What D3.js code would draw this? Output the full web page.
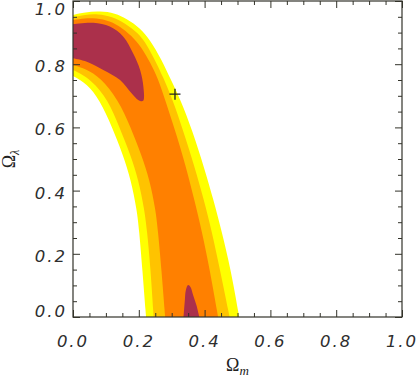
<!DOCTYPE html>
<html>
<head>
<meta charset="utf-8">
<script src="https://d3js.org/d3.v7.min.js"></script>
<style>
  html, body { margin: 0; padding: 0; background: #fff; }
  svg { display: block; }
  .tick-label { font-family: "DejaVu Sans", sans-serif; font-style: oblique; font-size: 16.5px; letter-spacing: 2px; fill: #2e2e2e; }
  .title { font-family: "Liberation Serif", serif; font-size: 18px; fill: #222; }
</style>
</head>
<body>
<div id="chart"></div>
<script>
// contour boundaries, [omega_m, omega_lambda]
// each band: outer edge (left axis -> bottom axis), inner edge (bottom axis -> left axis)
var yellowOuter = [[0,0.956],[0.036,0.965],[0.082,0.968],[0.128,0.962],[0.164,0.943],[0.204,0.915],[0.234,0.877],[0.270,0.813],[0.295,0.756],[0.327,0.687],[0.362,0.592],[0.401,0.465],[0.427,0.370],[0.451,0.275],[0.480,0.149],[0.505,0]];
var yellowInner = [[0.222,0],[0.211,0.149],[0.201,0.275],[0.194,0.339],[0.176,0.434],[0.152,0.513],[0.119,0.601],[0.081,0.687],[0.043,0.737],[0,0.763]];

var lightOuter = [[0,0.948],[0.036,0.957],[0.076,0.959],[0.119,0.951],[0.158,0.930],[0.198,0.899],[0.225,0.861],[0.249,0.813],[0.274,0.759],[0.303,0.687],[0.334,0.592],[0.368,0.481],[0.398,0.370],[0.421,0.275],[0.447,0.149],[0.476,0]];
var lightInner = [[0.245,0],[0.236,0.149],[0.225,0.275],[0.217,0.339],[0.199,0.434],[0.175,0.513],[0.141,0.601],[0.106,0.687],[0.058,0.750],[0,0.782]];

var orangeOuter = [[0,0.940],[0.036,0.946],[0.070,0.946],[0.112,0.937],[0.149,0.915],[0.188,0.880],[0.213,0.845],[0.234,0.807],[0.258,0.756],[0.280,0.687],[0.310,0.592],[0.342,0.481],[0.369,0.370],[0.391,0.275],[0.416,0.149],[0.441,0]];
var orangeInner = [[0.280,0],[0.269,0.149],[0.258,0.275],[0.251,0.339],[0.233,0.434],[0.208,0.513],[0.175,0.601],[0.138,0.687],[0.082,0.759],[0.040,0.785],[0,0.797]];

var redTop = [[0,0.927],[0.062,0.931],[0.112,0.919],[0.153,0.887],[0.183,0.834],[0.204,0.782],[0.214,0.729],[0.213,0.684],[0.198,0.687],[0.178,0.708],[0.143,0.750],[0.092,0.782],[0.042,0.808],[0,0.819]];
var redBottom = [[0.336,0],[0.340,0.054],[0.343,0.085],[0.350,0.101],[0.357,0.095],[0.365,0.070],[0.375,0.038],[0.384,0]];

var bestFit = [0.31, 0.705];

var tickValues = d3.range(0, 1.0001, 0.05).map(function(v) { return +v.toFixed(2); });
var labelValues = [0.0, 0.2, 0.4, 0.6, 0.8, 1.0];

var width = 418, height = 378;
var x = d3.scaleLinear().domain([0, 1]).range([73, 402]);
var y = d3.scaleLinear().domain([0, 1]).range([317, 1]);

var svg = d3.select("#chart").append("svg")
    .attr("width", width)
    .attr("height", height);

svg.append("clipPath").attr("id", "plot-clip")
  .append("rect")
    .attr("x", x(0)).attr("y", y(1))
    .attr("width", x(1) - x(0)).attr("height", y(0) - y(1));

var smooth = d3.line()
    .x(function(d) { return x(d[0]); })
    .y(function(d) { return y(d[1]); })
    .curve(d3.curveBasis);

var line = d3.line()
    .x(function(d) { return x(d[0]); })
    .y(function(d) { return y(d[1]); })
    .curve(d3.curveCatmullRom.alpha(0.5));

function band(outer, inner) {
  return smooth(outer) + smooth(inner).replace(/^M/, "L") + "Z";
}

var g = svg.append("g").attr("clip-path", "url(#plot-clip)");

g.append("path").attr("d", band(yellowOuter, yellowInner)).attr("fill", "#ffff00");
g.append("path").attr("d", band(lightOuter, lightInner)).attr("fill", "#ffc300");
g.append("path").attr("d", band(orangeOuter, orangeInner)).attr("fill", "#ff8000");
g.append("path").attr("d", line(redTop) + "Z").attr("fill", "#ab304b");
g.append("path").attr("d", line(redBottom) + "Z").attr("fill", "#ab304b");

// best fit cross
svg.append("path")
    .attr("d", "M" + (x(bestFit[0]) - 5.5) + "," + y(bestFit[1]) + "h11M" + x(bestFit[0]) + "," + (y(bestFit[1]) - 5.5) + "v11")
    .attr("stroke", "#222")
    .attr("stroke-width", 1.3)
    .attr("fill", "none");

// frame
var axisColor = "#33332a";
svg.append("rect")
    .attr("x", x(0)).attr("y", y(1))
    .attr("width", x(1) - x(0)).attr("height", y(0) - y(1))
    .attr("fill", "none")
    .attr("stroke", axisColor)
    .attr("stroke-width", 1.2);

function isMajor(v) { return Math.abs(v * 5 - Math.round(v * 5)) < 1e-6; }

function addAxis(axisFn, scale, transform) {
  svg.append("g")
      .attr("transform", transform)
      .call(axisFn(scale).tickValues(tickValues).tickFormat("").tickSizeOuter(0)
            .tickSizeInner(-4))
      .call(function(sel) {
        sel.select(".domain").remove();
        sel.selectAll(".tick line")
          .attr("stroke", axisColor)
          .each(function(d) {
            if (isMajor(d)) {
              var el = d3.select(this);
              ["x2", "y2"].forEach(function(k) {
                var v = +el.attr(k);
                if (v) el.attr(k, v > 0 ? 7 : -7);
              });
            }
          });
      });
}

addAxis(d3.axisBottom, x, "translate(0," + y(0) + ")");
addAxis(d3.axisTop, x, "translate(0," + y(1) + ")");
addAxis(d3.axisLeft, y, "translate(" + x(0) + ",0)");
addAxis(d3.axisRight, y, "translate(" + x(1) + ",0)");

// tick labels
svg.selectAll(".xlab").data(labelValues).enter().append("text")
    .attr("class", "tick-label")
    .attr("x", function(d) { return x(d); })
    .attr("y", 347)
    .attr("text-anchor", "middle")
    .text(function(d) { return d.toFixed(1); });

svg.selectAll(".ylab").data(labelValues).enter().append("text")
    .attr("class", "tick-label")
    .attr("x", 67)
    .attr("y", function(d) { return Math.max(15, Math.min(317, y(d) + 8)); })
    .attr("text-anchor", "end")
    .text(function(d) { return d.toFixed(1); });

// axis titles
var xt = svg.append("text").attr("class", "title")
    .attr("x", (x(0) + x(1)) / 2).attr("y", 371)
    .attr("text-anchor", "middle");
xt.append("tspan").text("Ω");
xt.append("tspan").attr("font-style", "italic").attr("font-size", "13px").attr("dy", 4).text("m");

var yt = svg.append("text").attr("class", "title")
    .attr("transform", "translate(15," + ((y(0) + y(1)) / 2) + ") rotate(-90)")
    .attr("text-anchor", "middle");
yt.append("tspan").text("Ω");
yt.append("tspan").attr("font-style", "italic").attr("font-size", "12px").attr("dy", 4).text("λ");
</script>
</body>
</html>
